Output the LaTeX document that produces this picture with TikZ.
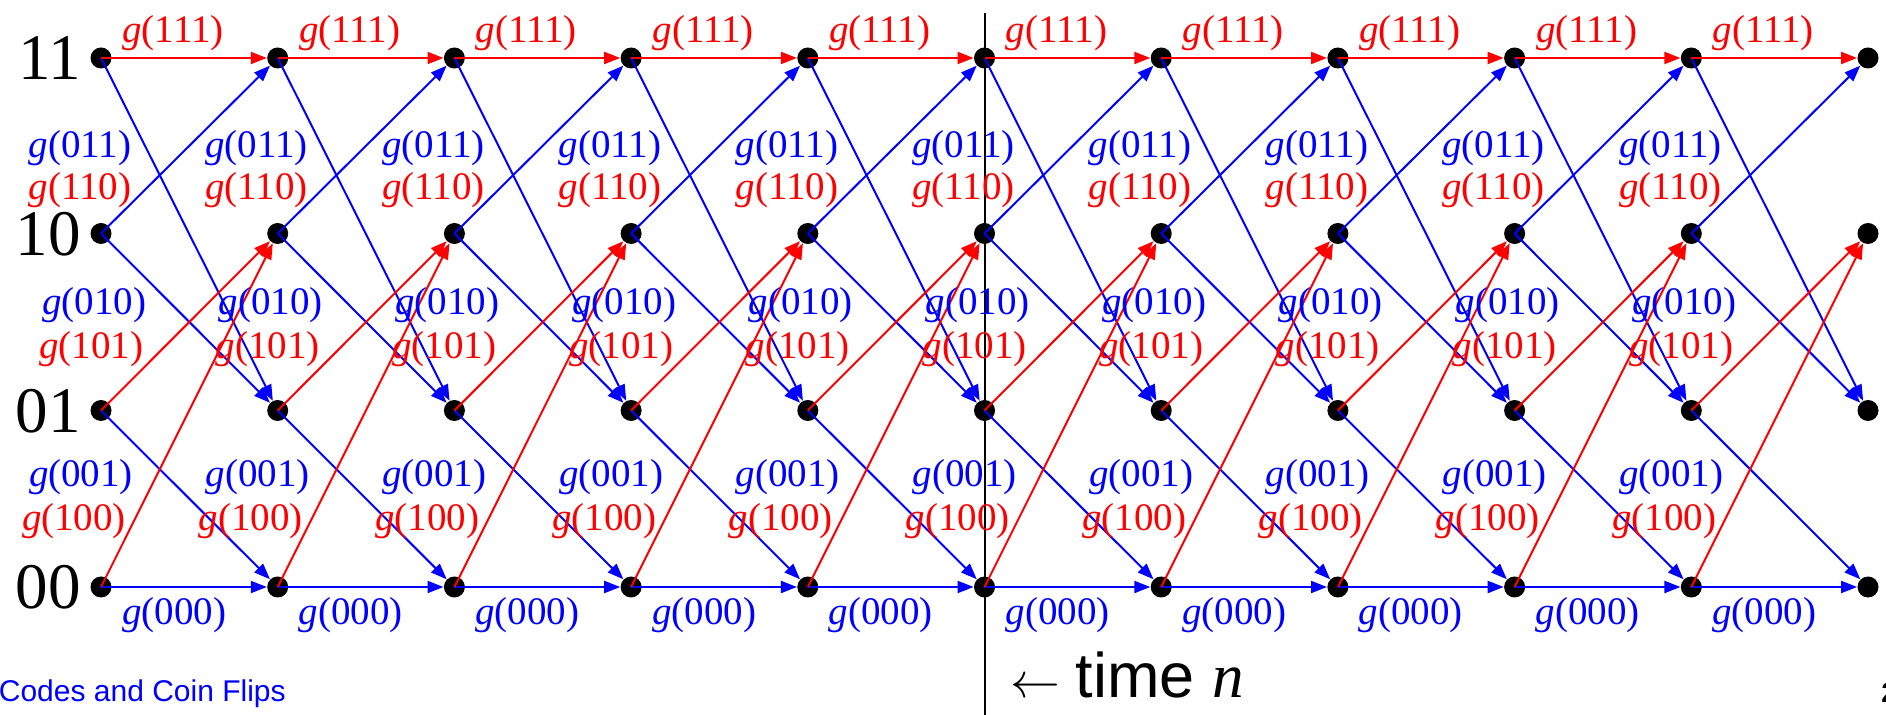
\documentclass[tikz,border=0pt]{standalone}
\usepackage{fontspec}
\setmainfont{Liberation Serif}
\setsansfont{Liberation Sans}
\usetikzlibrary{arrows.meta}
\begin{document}
\begin{tikzpicture}[x=0.5pt,y=-0.5pt,
  dot/.style={circle,fill=black,inner sep=0pt,minimum size=10.5pt},
  edge/.style={line width=1pt,-{Triangle[length=8pt,width=6pt]}},
  redge/.style={edge,red},
  bedge/.style={edge,blue},
  lab/.style={font=\fontsize{19.5}{21}\selectfont,inner sep=0pt,anchor=base},
  rlab/.style={lab,text=red},
  blab/.style={lab,text=blue},
  state/.style={font=\fontsize{32.5}{34}\selectfont,inner sep=0pt,anchor=base east}]
\useasboundingbox (0,0) rectangle (1886,715);
\newcommand{\gl}[1]{\textit{g}(#1)}
% vertical time line
\coordinate (vt) at (985,13);
\coordinate (vb) at (985,715);
\draw[line width=1pt] (vt) -- (vb);
% states
\node[state] (s11) at (81,80) {11};
\node[state] (s10) at (81,255.5) {10};
\node[state] (s01) at (81,432.5) {01};
\node[state] (s00) at (81,609) {00};
% dots
\foreach \i in {0,...,10} {
  \pgfmathsetmacro\x{101+176.7*\i}
  \node[dot] (a\i) at (\x,58) {};
  \node[dot] (b\i) at (\x,233.5) {};
  \node[dot] (c\i) at (\x,410.5) {};
  \node[dot] (d\i) at (\x,587) {};
}
% edges
\foreach \i [count=\j from 1] in {0,...,9} {
  \draw[bedge] (a\i.center) -- (c\j);
  \draw[bedge] (b\i.center) -- (a\j);
  \draw[bedge] (b\i.center) -- (c\j);
  \draw[bedge] (c\i.center) -- (d\j);
  \draw[bedge] (d\i.center) -- (d\j);
  \draw[redge] (a\i.center) -- (a\j);
  \draw[redge] (c\i.center) -- (b\j);
  \draw[redge] (d\i.center) -- (b\j);
}
% labels
\foreach \i in {0,...,9} {
  \pgfmathsetmacro\x{101+176.7*\i}
  \node[rlab] (t\i) at (\x+72,43) {\gl{111}};
  \node[blab] (p\i) at (\x-21,158) {\gl{011}};
  \node[rlab] (q\i) at (\x-21,200) {\gl{110}};
  \node[blab] (r\i) at (\x-7,315) {\gl{010}};
  \node[rlab] (u\i) at (\x-10,359) {\gl{101}};
  \node[blab] (v\i) at (\x-20,487) {\gl{001}};
  \node[rlab] (w\i) at (\x-27,531) {\gl{100}};
  \node[blab] (z\i) at (\x+73,625) {\gl{000}};
}
% footer texts
\node[font=\sffamily\fontsize{15}{18}\selectfont,text=blue,anchor=base west,inner sep=0pt] (foot) at (-1.5,702) {Codes and Coin Flips};
\node[font=\fontsize{31.5}{34}\selectfont,anchor=base west,inner sep=0pt] (time) at (1010,698) {$\leftarrow$ \sffamily time \rmfamily\itshape n};
\node[font=\sffamily\bfseries\fontsize{14}{16}\selectfont,anchor=base west,inner sep=0pt] (pg) at (1881,703) {2};
\end{tikzpicture}
\end{document}
